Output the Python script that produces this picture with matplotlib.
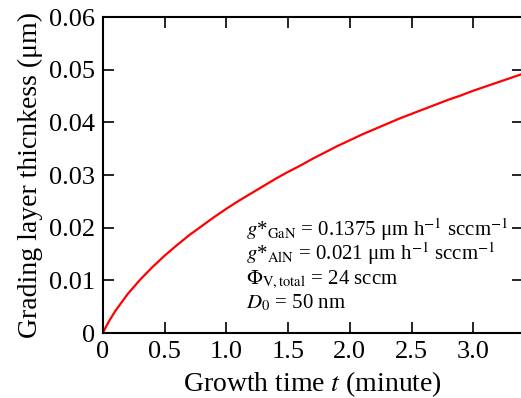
import matplotlib
matplotlib.use("Agg")
import matplotlib.pyplot as plt

# Data
time_min = [0, 0.02, 0.05, 0.1, 0.2, 0.3, 0.4, 0.5, 0.6, 0.7, 0.8, 0.9, 1.0,
            1.1, 1.2, 1.3, 1.4, 1.5, 1.6, 1.7, 1.8, 1.9, 2.0, 2.1, 2.2, 2.3,
            2.4, 2.5, 2.6, 2.7, 2.8, 2.9, 3.0, 3.1, 3.2, 3.3, 3.4]
thickness_um = [0, 0.0010, 0.0023, 0.0042, 0.0074, 0.0101, 0.0125, 0.0147,
                0.0167, 0.0186, 0.0203, 0.0220, 0.0236, 0.0251, 0.0265, 0.0279,
                0.0293, 0.0306, 0.0318, 0.0331, 0.0343, 0.0355, 0.0366, 0.0377,
                0.0387, 0.0397, 0.0407, 0.0416, 0.0425, 0.0434, 0.0443, 0.0451,
                0.0460, 0.0468, 0.0476, 0.0484, 0.0492]
x_ticks = [0, 0.5, 1.0, 1.5, 2.0, 2.5, 3.0]
x_tick_labels = ["0", "0.5", "1.0", "1.5", "2.0", "2.5", "3.0"]
y_ticks = [0, 0.01, 0.02, 0.03, 0.04, 0.05, 0.06]
y_tick_labels = ["0", "0.01", "0.02", "0.03", "0.04", "0.05", "0.06"]
annotations = [
    r"$g$*$_{\rm GaN}$ = 0.1375 μm h$^{-1}$ sccm$^{-1}$",
    r"$g$*$_{\rm AlN}$ = 0.021 μm h$^{-1}$ sccm$^{-1}$",
    r"$\Phi_{\rm V,total}$ = 24 sccm",
    r"$D_0$ = 50 nm",
]

plt.rcParams['font.family'] = ['Liberation Serif', 'DejaVu Serif']
plt.rcParams['mathtext.fontset'] = 'stix'

fig = plt.figure(figsize=(5.21, 3.98), dpi=100)
ax = fig.add_axes([103/521, 1 - 333/398, 1.003 - 103/521, (333 - 17)/398])

ax.plot(time_min, thickness_um, color='#ff0000', lw=1.6)

ax.set_xlim(0, 3.4)
ax.set_ylim(0, 0.06)
ax.set_xticks(x_ticks)
ax.set_xticklabels(x_tick_labels)
ax.set_yticks(y_ticks)
ax.set_yticklabels(y_tick_labels)
ax.tick_params(direction='in', length=8, width=1.2, top=True, right=True,
               labelsize=19, pad=6)
for s in ax.spines.values():
    s.set_linewidth(1.5)

ax.set_xlabel(r"Growth time $t$ (minute)", fontsize=20, labelpad=4)
ax.set_ylabel("Grading layer thicnkess (μm)", fontsize=20, labelpad=4)

y0 = 0.0185
for i, txt in enumerate(annotations):
    ax.text(1.16, y0 - i * 0.0046, txt, fontsize=15, va='baseline', ha='left')

fig.savefig("out.png", dpi=100)
